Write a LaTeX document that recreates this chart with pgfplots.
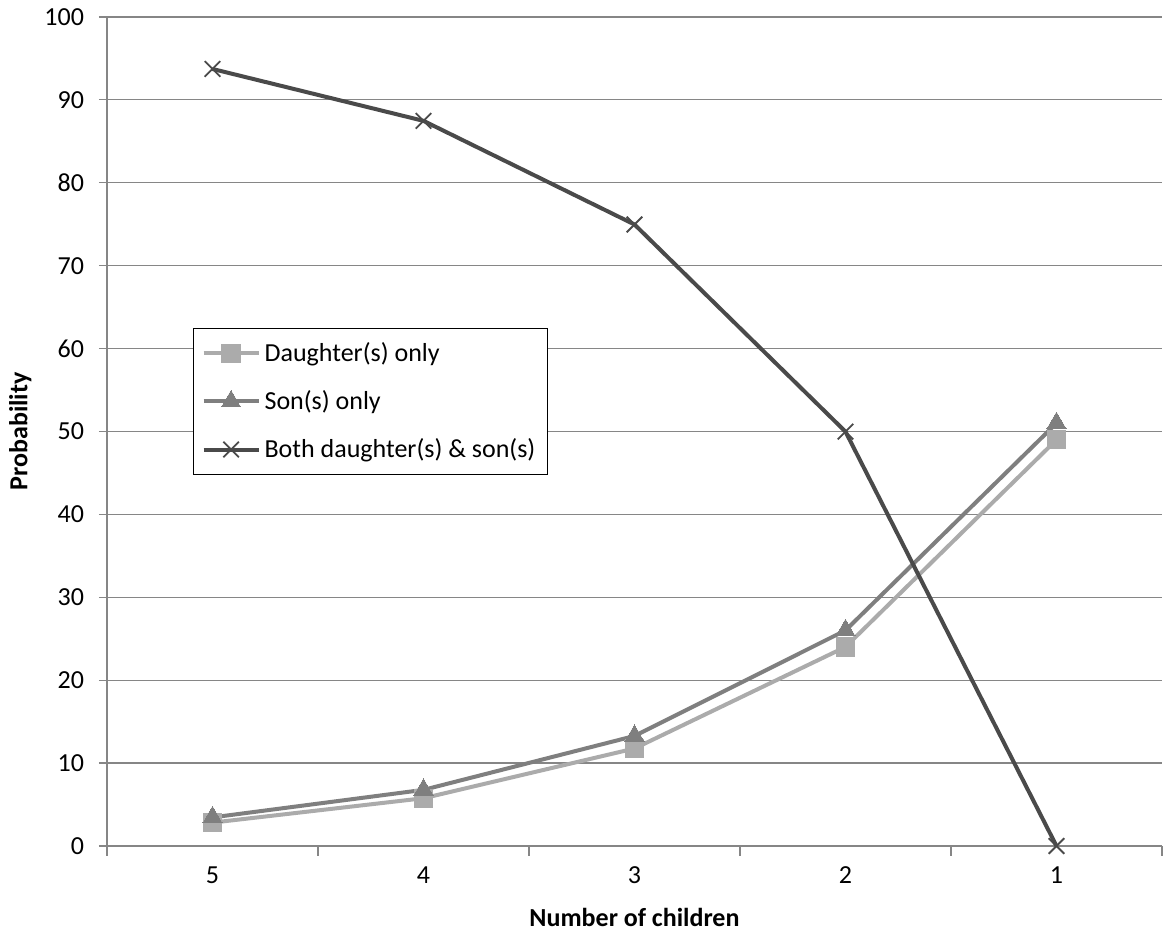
\documentclass[border=0pt]{standalone}
\usepackage{fontspec}
\setmainfont{Carlito}
\usepackage{pgfplots}
\pgfplotsset{compat=1.18}
\definecolor{cD}{HTML}{ABABAB}
\definecolor{cS}{HTML}{7F7F7F}
\definecolor{cB}{HTML}{4A4A4A}
\definecolor{gridc}{HTML}{868686}
\begin{document}
\begin{tikzpicture}
\path[use as bounding box] (-53.5pt,-44.5pt) rectangle (528.5pt,423pt);
\begin{axis}[
  at={(0,0)}, anchor=south west,
  scale only axis, width=527.5pt, height=414.5pt,
  xmin=0.5, xmax=5.5, ymin=0, ymax=100,
  xtick={1,2,3,4,5}, xticklabels={5,4,3,2,1},
  minor xtick={0.5,1.5,2.5,3.5,4.5,5.5},
  ytick={0,10,...,100},
  axis x line*=bottom, axis y line*=left,
  axis line style={gridc, line width=0.6pt, -},
  ymajorgrids, major grid style={gridc, line width=0.6pt},
  tick style={gridc, line width=0.6pt},
  major x tick style={draw=none},
  minor tick length=5pt, major tick length=4pt,
  tick align=outside,
  ticklabel style={font=\fontsize{13pt}{15pt}\selectfont, text=black},
  /pgf/number format/assume math mode=true,
  xticklabel style={yshift=-3pt},
  yticklabel style={xshift=-4pt},
  xlabel={\textbf{Number of children}},
  ylabel={\textbf{Probability}},
  label style={font=\fontsize{13pt}{15pt}\selectfont},
  xlabel style={at={(axis description cs:0.5,-0.097)}, anchor=base},
  ylabel style={at={(axis description cs:-0.0755,0.5)}, anchor=base},
  legend style={at={(axis description cs:0.0815,0.625)}, anchor=north west,
    draw=black, line width=0.6pt, font=\fontsize{13pt}{15pt}\selectfont,
    inner xsep=4pt, inner ysep=5pt, row sep=9pt,
    /tikz/every even column/.append style={column sep=1pt}},
  legend cell align=left,
  legend image code/.code={
    \draw[#1, mark repeat=2, mark phase=2] plot coordinates {(0pt,0pt) (13.75pt,0pt) (27.5pt,0pt)};
  },
  clip=false,
]
\addplot[cD, line width=2pt, mark=square*, mark size=4.6pt, mark options={solid, fill=cD, draw=cD, line width=0pt}]
  coordinates {(1,2.82) (2,5.76) (3,11.76) (4,24.01) (5,49)};
\addlegendentry{Daughter(s) only}
\addplot[cS, line width=2pt, mark=triangle*, mark size=5.5pt, mark options={solid, fill=cS, draw=cS, line width=0pt}]
  coordinates {(1,3.45) (2,6.77) (3,13.27) (4,26.01) (5,51)};
\addlegendentry{Son(s) only}
\addplot[cB, line width=2pt, mark=x, mark size=5.5pt, mark options={solid, line width=0.9pt}]
  coordinates {(1,93.73) (2,87.47) (3,74.97) (4,49.98) (5,0)};
\addlegendentry{Both daughter(s) \& son(s)}
\end{axis}
\end{tikzpicture}
\end{document}
